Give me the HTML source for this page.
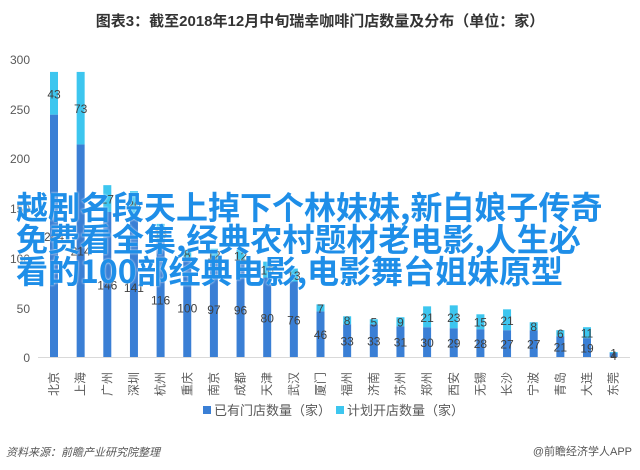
<!DOCTYPE html>
<html><head><meta charset="utf-8"><style>
body{margin:0;background:#fff;width:640px;height:470px;overflow:hidden;position:relative;font-family:"Liberation Sans","Noto Sans CJK SC",sans-serif}
.ov{position:absolute;left:16px;top:190px;font-size:32px;line-height:32px;color:#1e8ee8;font-weight:bold;font-family:"Noto Sans CJK SC",sans-serif;white-space:nowrap;letter-spacing:0px;text-shadow:0 0 2px #fff}
</style></head><body>
<svg width="640" height="470" style="position:absolute;left:0;top:0" font-family="Liberation Sans, Noto Sans CJK SC, sans-serif">
<text x="320" y="26" text-anchor="middle" font-size="15" font-weight="bold" fill="#333">图表3：截至2018年12月中旬瑞幸咖啡门店数量及分布（单位：家）</text>
<g font-size="12" fill="#595959" text-anchor="end">
<text x="30" y="64">300</text><text x="30" y="114">250</text><text x="30" y="163">200</text><text x="30" y="213">150</text><text x="30" y="263">100</text><text x="30" y="313">50</text><text x="30" y="362">0</text>
</g>
<line x1="38" y1="357.5" x2="630" y2="357.5" stroke="#d9d9d9"/>
<g id="bars"></g>
<rect x="203" y="406" width="8" height="8" fill="#3a7fd5"/>
<text x="214" y="415" font-size="13" fill="#595959">已有门店数量（家）</text>
<rect x="336" y="406" width="8" height="8" fill="#3dc6ef"/>
<text x="347" y="415" font-size="13" fill="#595959">计划开店数量（家）</text>
<text x="6" y="456" font-size="11" fill="#555" font-style="italic">资料来源：前瞻产业研究院整理</text>
<text x="632" y="455" font-size="11" fill="#555" text-anchor="end">@前瞻经济学人APP</text>
</svg>
<div class="ov">越剧名段天上掉下个林妹妹,新白娘子传奇<br>免费看全集,经典农村题材老电影,人生必<br>看的100部经典电影,电影舞台姐妹原型</div>
<script>
var names=["北京","上海","广州","深圳","杭州","重庆","南京","成都","天津","武汉","厦门","福州","济南","苏州","郑州","西安","无锡","长沙","宁波","青岛","大连","东莞"];
var a=[244,214,146,141,116,100,97,96,80,76,46,33,33,31,30,29,28,27,27,21,19,4];
var p=[43,73,27,26,18,8,12,12,16,13,7,8,5,9,21,23,15,21,8,6,11,1];
var g=document.getElementById('bars'),s='';var k=298/300,y0=357;
for(var i=0;i<22;i++){var cx=54+i*26.65;var ha=a[i]*k,hp=p[i]*k;
s+='<rect x="'+(cx-4)+'" y="'+(y0-ha)+'" width="8" height="'+ha+'" fill="#3a7fd5"/>';
s+='<rect x="'+(cx-4)+'" y="'+(y0-ha-hp)+'" width="8" height="'+hp+'" fill="#3dc6ef"/>';
s+='<text x="'+cx+'" y="'+(y0-ha/2+5)+'" font-size="12" fill="#404040" text-anchor="middle">'+a[i]+'</text>';
s+='<text x="'+cx+'" y="'+(y0-ha-hp/2+5)+'" font-size="12" fill="#404040" text-anchor="middle">'+p[i]+'</text>';
s+='<text transform="translate('+(cx+4)+',384) rotate(-90)" font-size="12" fill="#595959" text-anchor="middle">'+names[i]+'</text>';}
g.innerHTML=s;
</script>
</body></html>
